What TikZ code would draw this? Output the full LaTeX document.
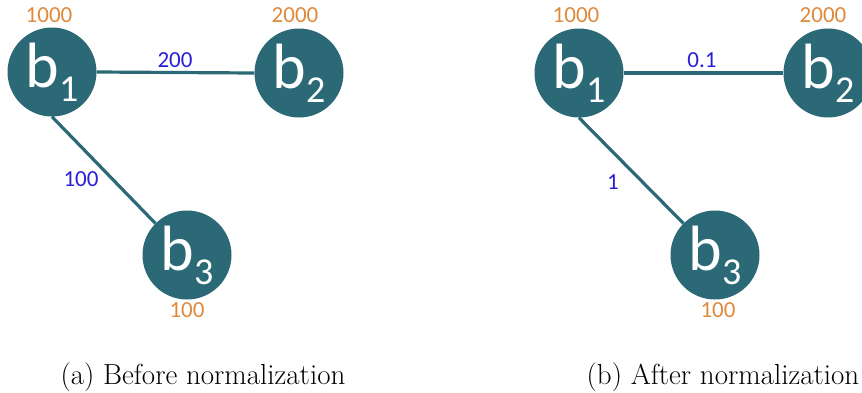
\documentclass[tikz,border=0pt]{standalone}
\usepackage{fontspec}
\setmainfont{Latin Modern Roman}
\newfontfamily\calib{Carlito}
\definecolor{teal1}{HTML}{2B6977}
\definecolor{orng}{HTML}{E0893A}
\definecolor{blu}{HTML}{2A1FD6}
\newcommand{\bsub}[1]{\calib\fontsize{64}{64}\selectfont b\raisebox{-14pt}{\fontsize{38}{38}\selectfont #1}}
\tikzset{
  bus/.style={circle, fill=teal1, draw=none, minimum size=89pt, inner sep=0pt, text=white},
  wlab/.style={text=orng, font=\calib\fontsize{23}{23}\selectfont, inner sep=0pt},
  elab/.style={text=blu, font=\calib\fontsize{23}{23}\selectfont, inner sep=0pt},
  conn/.style={draw=teal1, line width=3.2pt},
  captext/.style={font=\fontsize{29}{32}\selectfont, inner sep=0pt}
}
\begin{document}
\begin{tikzpicture}[x=1pt,y=-1pt]
\useasboundingbox (0,0) rectangle (862,392);
% panel (a)
\node[bus] (a1) at (52,72) {\bsub{1}};
\node[bus] (a2) at (299,73) {\bsub{2}};
\node[bus] (a3) at (187,255) {\bsub{3}};
\draw[conn] (a1.east) -- (a2.west);
\draw[conn] (a1.south) -- (a3.135);
\node[wlab] (wa1) at (49,15) {1000};
\node[wlab] (wa2) at (295,15) {2000};
\node[wlab] (wa3) at (187,310) {100};
\node[elab] (ea12) at (175,60) {200};
\node[elab] (ea13) at (81,179) {100};
% panel (b)
\node[bus] (b1) at (579,73) {\bsub{1}};
\node[bus] (b2) at (828,73) {\bsub{2}};
\node[bus] (b3) at (715,255) {\bsub{3}};
\draw[conn] (b1.east) -- (b2.west);
\draw[conn] (b1.south) -- (b3.135);
\node[wlab] (wb1) at (576,15) {1000};
\node[wlab] (wb2) at (823,15) {2000};
\node[wlab] (wb3) at (718,310) {100};
\node[elab] (eb12) at (702,60) {0.1};
\node[elab] (eb13) at (613,182) {1};
% captions
\node[captext] (ca) at (203,377) {(a) Before normalization};
\node[captext] (cb) at (723,377) {(b) After normalization};
\end{tikzpicture}
\end{document}
